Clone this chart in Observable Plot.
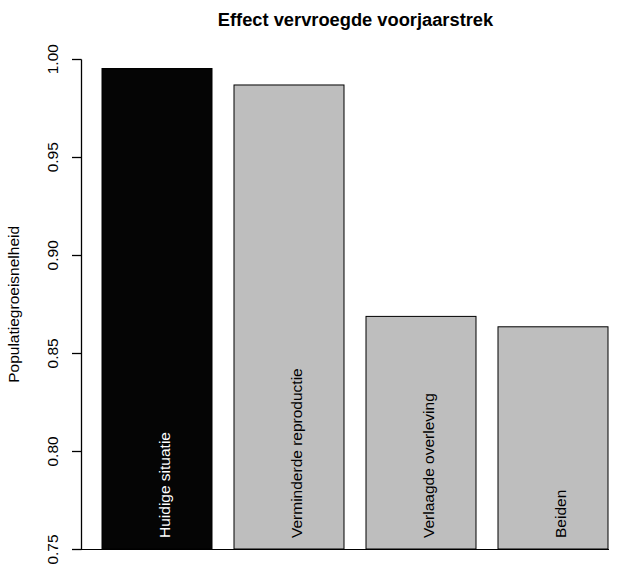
<!DOCTYPE html>
<html>
<head>
<meta charset="utf-8">
<script src="https://cdn.jsdelivr.net/npm/d3@7"></script>
<script src="https://cdn.jsdelivr.net/npm/@observablehq/plot@0.6"></script>
<style>
  html, body { margin: 0; padding: 0; background: #fff; }
</style>
</head>
<body>
<div id="chart"></div>
<script>
const title = "Effect vervroegde voorjaarstrek";
const yLabel = "Populatiegroeisnelheid";
const categories = ["Huidige situatie", "Verminderde reproductie", "Verlaagde overleving", "Beiden"];
const values = [0.995, 0.9866, 0.8686, 0.8633];
const yTicks = [0.75, 0.80, 0.85, 0.90, 0.95, 1.00];
const yDomain = [0.75, 1.00];

const data = categories.map((c, i) => ({cat: c, value: values[i], idx: i}));
const font = "'Liberation Sans', Arial, Helvetica, sans-serif";
const margins = {top: 58.7, bottom: 15, left: 81, right: 14};

const plot = Plot.plot({
  width: 623,
  height: 564,
  marginTop: margins.top,
  marginBottom: margins.bottom,
  marginLeft: margins.left,
  marginRight: margins.right,
  style: {fontFamily: font, fontSize: "15.5px", color: "#000", background: "#fff"},
  x: {domain: categories, type: "band", paddingInner: 0.2 / 1.2, paddingOuter: 0, insetLeft: 20, axis: null},
  y: {domain: yDomain, ticks: yTicks, axis: null},
  marks: [
    Plot.barY(data, {
      x: "cat", y1: () => yDomain[0], y2: "value",
      fill: d => d.idx === 0 ? "#050505" : "#bebebe",
      stroke: "#000", strokeWidth: 1
    }),
    Plot.ruleY([yDomain[0]], {stroke: "#000", strokeWidth: 1}),
    Plot.text(yTicks, {
      y: d => d, text: d => d3.format(".2f")(d),
      frameAnchor: "left", rotate: -90, dx: -28, fontSize: 15.5,
      textAnchor: "middle", lineAnchor: "middle", fill: "#000"
    }),
    Plot.text([yLabel], {
      text: d => d, frameAnchor: "left", rotate: -90, dx: -67, fontSize: 15.5,
      textAnchor: "middle", lineAnchor: "middle", fill: "#000"
    }),
    Plot.text([title], {
      text: d => d, frameAnchor: "top", dx: 10, dy: -38.6,
      lineAnchor: "middle", fontWeight: "bold", fontSize: 18.3, fill: "#000"
    }),
    Plot.text(data, {
      x: "cat", y: () => yDomain[0], text: "cat",
      rotate: -90, textAnchor: "start", lineAnchor: "middle",
      dx: 8, dy: -11.5, fontSize: 15.5,
      fill: d => d.idx === 0 ? "#ffffff" : "#000000"
    })
  ]
});

// y axis: line from the lowest to the highest tick, and ticks, placed with Plot's y scale
const ys = plot.scale("y");
const axisG = d3.select(plot).append("g")
  .attr("stroke", "#000").attr("stroke-width", 1.3).attr("fill", "none");
axisG.append("line")
  .attr("x1", margins.left + 0.5).attr("x2", margins.left + 0.5)
  .attr("y1", Math.round(ys.apply(d3.min(yTicks))) + 0.5)
  .attr("y2", Math.round(ys.apply(d3.max(yTicks))) + 0.5);
axisG.selectAll("line.tick").data(yTicks).join("line")
  .attr("class", "tick")
  .attr("x1", margins.left - 9).attr("x2", margins.left + 0.5)
  .attr("y1", d => Math.round(ys.apply(d)) + 0.5)
  .attr("y2", d => Math.round(ys.apply(d)) + 0.5);

document.getElementById("chart").appendChild(plot);
</script>
</body>
</html>
